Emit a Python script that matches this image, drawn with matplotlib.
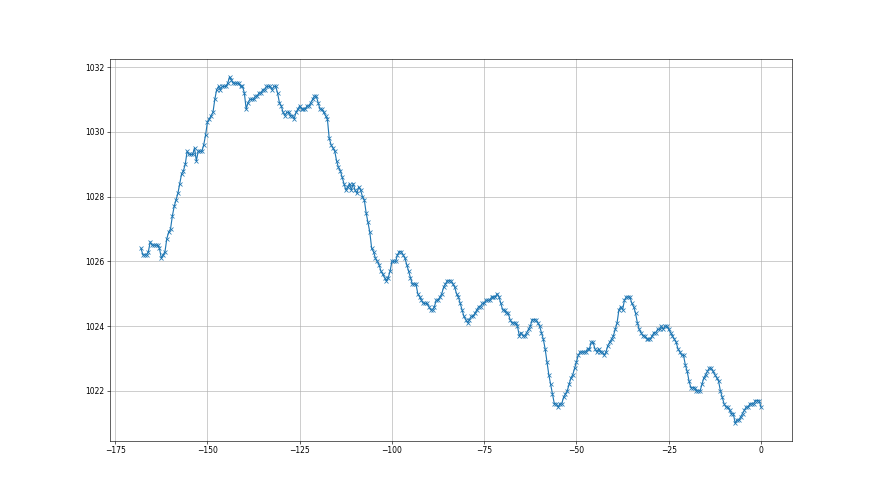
import numpy as np
import matplotlib
matplotlib.use("Agg")
import matplotlib.pyplot as plt

# pressure readings every 30 min over the last 7 days (hours relative to now)
hours = np.arange(-168, 0.5, 0.5)

pressure = [
    1026.4, 1026.2, 1026.2, 1026.2, 1026.3, 1026.6, 1026.5, 1026.5, 1026.5, 1026.5,
    1026.4, 1026.1, 1026.2, 1026.3, 1026.7, 1026.9, 1027.0, 1027.4, 1027.7, 1027.9,
    1028.1, 1028.4, 1028.7, 1028.8, 1029.0, 1029.4, 1029.3, 1029.3, 1029.3, 1029.5,
    1029.1, 1029.4, 1029.4, 1029.4, 1029.6, 1029.9, 1030.3, 1030.4, 1030.5, 1030.6,
    1031.0, 1031.3, 1031.4, 1031.3, 1031.4, 1031.4, 1031.4, 1031.5, 1031.7, 1031.6,
    1031.5, 1031.5, 1031.5, 1031.5, 1031.4, 1031.4, 1031.2, 1030.7, 1030.9, 1031.0,
    1031.0, 1031.0, 1031.1, 1031.1, 1031.2, 1031.2, 1031.3, 1031.3, 1031.4, 1031.4,
    1031.4, 1031.3, 1031.4, 1031.4, 1031.2, 1030.9, 1030.8, 1030.6, 1030.5, 1030.6,
    1030.6, 1030.5, 1030.5, 1030.4, 1030.6, 1030.7, 1030.8, 1030.7, 1030.7, 1030.7,
    1030.8, 1030.8, 1030.9, 1031.0, 1031.1, 1031.1, 1030.9, 1030.7, 1030.7, 1030.6,
    1030.5, 1030.4, 1029.8, 1029.6, 1029.5, 1029.4, 1029.1, 1028.9, 1028.8, 1028.6,
    1028.4, 1028.2, 1028.3, 1028.4, 1028.2, 1028.4, 1028.2, 1028.1, 1028.3, 1028.2,
    1028.0, 1027.9, 1027.5, 1027.2, 1026.9, 1026.4, 1026.3, 1026.1, 1026.0, 1025.9,
    1025.7, 1025.6, 1025.5, 1025.4, 1025.5, 1025.7, 1026.0, 1026.0, 1026.0, 1026.2,
    1026.3, 1026.3, 1026.2, 1026.1, 1025.9, 1025.7, 1025.5, 1025.3, 1025.3, 1025.3,
    1025.0, 1024.9, 1024.8, 1024.7, 1024.7, 1024.7, 1024.6, 1024.5, 1024.5, 1024.6,
    1024.8, 1024.8, 1024.9, 1025.0, 1025.2, 1025.3, 1025.4, 1025.4, 1025.4, 1025.3,
    1025.2, 1025.0, 1024.9, 1024.7, 1024.5, 1024.3, 1024.2, 1024.1, 1024.2, 1024.3,
    1024.3, 1024.4, 1024.5, 1024.6, 1024.6, 1024.7, 1024.7, 1024.8, 1024.8, 1024.8,
    1024.9, 1024.9, 1024.9, 1025.0, 1024.9, 1024.7, 1024.5, 1024.5, 1024.4, 1024.4,
    1024.2, 1024.1, 1024.1, 1024.1, 1024.0, 1023.7, 1023.8, 1023.7, 1023.7, 1023.8,
    1023.9, 1024.0, 1024.2, 1024.2, 1024.2, 1024.1, 1024.0, 1023.8, 1023.6, 1023.3,
    1022.9, 1022.5, 1022.2, 1021.9, 1021.6, 1021.6, 1021.5, 1021.6, 1021.6, 1021.8,
    1021.9, 1022.0, 1022.2, 1022.4, 1022.5, 1022.7, 1022.9, 1023.1, 1023.2, 1023.2,
    1023.2, 1023.2, 1023.3, 1023.3, 1023.5, 1023.5, 1023.3, 1023.2, 1023.3, 1023.2,
    1023.2, 1023.1, 1023.2, 1023.4, 1023.5, 1023.6, 1023.7, 1023.9, 1024.1, 1024.5,
    1024.6, 1024.5, 1024.8, 1024.9, 1024.9, 1024.9, 1024.7, 1024.6, 1024.4, 1024.1,
    1023.9, 1023.8, 1023.7, 1023.7, 1023.6, 1023.6, 1023.6, 1023.7, 1023.8, 1023.8,
    1023.9, 1023.9, 1024.0, 1023.9, 1024.0, 1024.0, 1023.9, 1023.8, 1023.7, 1023.6,
    1023.5, 1023.3, 1023.2, 1023.1, 1023.1, 1022.8, 1022.6, 1022.3, 1022.1, 1022.1,
    1022.1, 1022.0, 1022.0, 1022.0, 1022.2, 1022.4, 1022.5, 1022.6, 1022.7, 1022.7,
    1022.6, 1022.5, 1022.4, 1022.3, 1022.0, 1021.8, 1021.6, 1021.5, 1021.5, 1021.4,
    1021.3, 1021.3, 1021.0, 1021.1, 1021.1, 1021.2, 1021.3, 1021.4, 1021.5, 1021.5,
    1021.6, 1021.6, 1021.6, 1021.7, 1021.7, 1021.7, 1021.5,
]

xticks = [-175, -150, -125, -100, -75, -50, -25, 0]
yticks = [1022, 1024, 1026, 1028, 1030, 1032]

fig, ax = plt.subplots(figsize=(16, 9), dpi=55)

ax.plot(hours, pressure, marker='x', color='#1f77b4', linewidth=1.5, markersize=6)

ax.set_xticks(xticks)
ax.set_yticks(yticks)
ax.grid(True, color='#b0b0b0', linewidth=0.8)
ax.set_axisbelow(True)

plt.savefig('out.png', dpi=55)
